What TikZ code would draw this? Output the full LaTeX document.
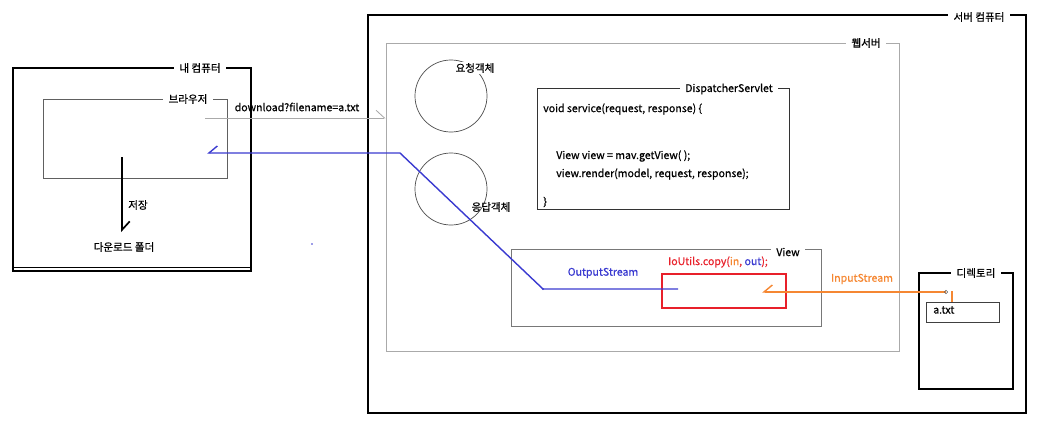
\documentclass[tikz,border=0pt]{standalone}
\usepackage{fontspec}
\setmainfont{Noto Sans CJK KR}[FakeBold=0.7]
\usetikzlibrary{arrows.meta,fit,positioning}
\definecolor{streamblue}{RGB}{58,58,208}
\definecolor{streamorange}{RGB}{245,135,50}
\definecolor{copyred}{RGB}{232,32,42}
\definecolor{boxgray}{RGB}{120,120,120}
\definecolor{lightgray}{RGB}{170,170,170}
\tikzset{
  % outer machines: heavy black frame
  machine/.style={
    draw=black, line width=1.5pt, inner sep=0pt},
  % inner parts: thin gray frame
  part/.style={
    draw=boxgray, line width=0.6pt, inner sep=0pt},
  % a title that breaks the frame line
  title/.style={
    fill=white, inner xsep=4pt, inner ysep=2pt, font=\fontsize{7.5}{9}\selectfont},
  % plain text
  label/.style={
    inner sep=1pt, font=\fontsize{7.5}{9}\selectfont},
  % code lines inside the servlet
  code/.style={
    inner sep=0pt, anchor=west, font=\fontsize{7.5}{9}\selectfont},
  % half arrow heads
  barbl/.style={-{Straight Barb[left,length=6pt,width=11pt]}},
  barbr/.style={-{Straight Barb[right,length=6pt,width=10pt]}}
}
\begin{document}
\begin{tikzpicture}[x=0.025cm,y=-0.025cm]
  \useasboundingbox (0,0) rectangle (1039,428);
  % My computer
  \node[machine, fit={(13,68) (251,271)}] (mypc) {};
  \draw[line width=0.8pt] (mypc.west |- 0,267.5) -- (mypc.east |- 0,267.5);
  \node[title] at (200,68) {내 컴퓨터};
  \node[part, draw=boxgray!80!black, fit={(43,99) (227,178)}] (browser) {};
  \node[title] at (188,99) {브라우저};
  \coordinate (save) at (122,157);
  \node[label] (folder) at (124,247) {다운로드 폴더};
  \node[label] (savelbl) at (138,205) {저장};
  \draw[barbl, line width=1.2pt] (save) -- (save |- 0,232);
  % Server computer
  \node[machine, fit={(368,15) (1026,413)}] (server) {};
  \node[title] at (979,17) {서버 컴퓨터};
  \node[part, draw=lightgray, fit={(386,43) (899,351)}] (web) {};
  \node[title] at (866,43) {웹서버};
  % request and response objects
  \node[circle, draw=black!70, line width=0.5pt, minimum size=1.8cm] (req) at (451,96) {};
  \node[label, fill=white] at (475,68) {요청객체};
  \node[circle, draw=black!70, line width=0.5pt, minimum size=1.8cm] (resp) at (451,189) {};
  % DispatcherServlet
  \node[part, draw=black!80, fit={(537,88) (789,209)}] (servlet) {};
  \node[title] at (729,89) {DispatcherServlet};
  \node[code] (l1) at (543,109) {void service(request, response) \{};
  \node[code] (l2) at (556,156) {View view = mav.getView( );};
  \node[code] (l3) at (556,174) {view.render(model, request, response);};
  \node[code] (l4) at (543,202) {\}};
  % View
  \node[part, fit={(511,249) (821,326)}] (view) {};
  \node[title] at (788,252) {View};
  \node[part, draw=copyred, line width=1pt, fit={(662,274) (786,308)}] (copy) {};
  \node[label] at (718,262) {\textcolor{copyred}{IoUtils.copy(}\textcolor{streamorange}{in}\textcolor{copyred}{, }\textcolor{streamblue}{out}\textcolor{copyred}{);}};
  % directory
  \node[machine, line width=1.2pt, fit={(919,273) (1013,389)}] (dir) {};
  \node[title] at (976,273) {디렉토리};
  \node[part, draw=black!75, fit={(926,302) (999,322)}] (file) {};
  \node[code] at (933,310) {a.txt};
  % request url
  \coordinate (urlstart) at (205,118);
  \draw[barbl, draw=lightgray, line width=0.6pt] (urlstart) -- (web.west |- urlstart);
  \node[label] at (297,107) {download?filename=a.txt};
  % output stream
  \coordinate (outend) at (678,289);
  \coordinate (outbend) at (543,289);
  \coordinate (outtop) at (400,153);
  \coordinate (browserend) at (207,153);
  \draw[barbr, draw=streamblue, line width=1pt] (outend) -- (outbend) -- (outtop) -- (browserend);
  \fill[streamblue] (outbend) circle (0.8pt);
  \fill[streamblue] (312,244) circle (0.6pt);
  \node[label, text=streamblue] at (603,273) {OutputStream};
  \node[label] at (491,207) {응답객체};
  % input stream
  \coordinate (filepick) at (946,292);
  \draw[barbr, draw=streamorange, line width=1pt] (filepick) -- (copy.east |- filepick) -- (762,292);
  \draw[streamorange, line width=1pt] (952,291) -- (952,302);
  \draw[black!60, line width=0.4pt] (filepick) circle (1.3pt);
  \node[label, text=streamorange] at (862,279) {InputStream};
\end{tikzpicture}
\end{document}
